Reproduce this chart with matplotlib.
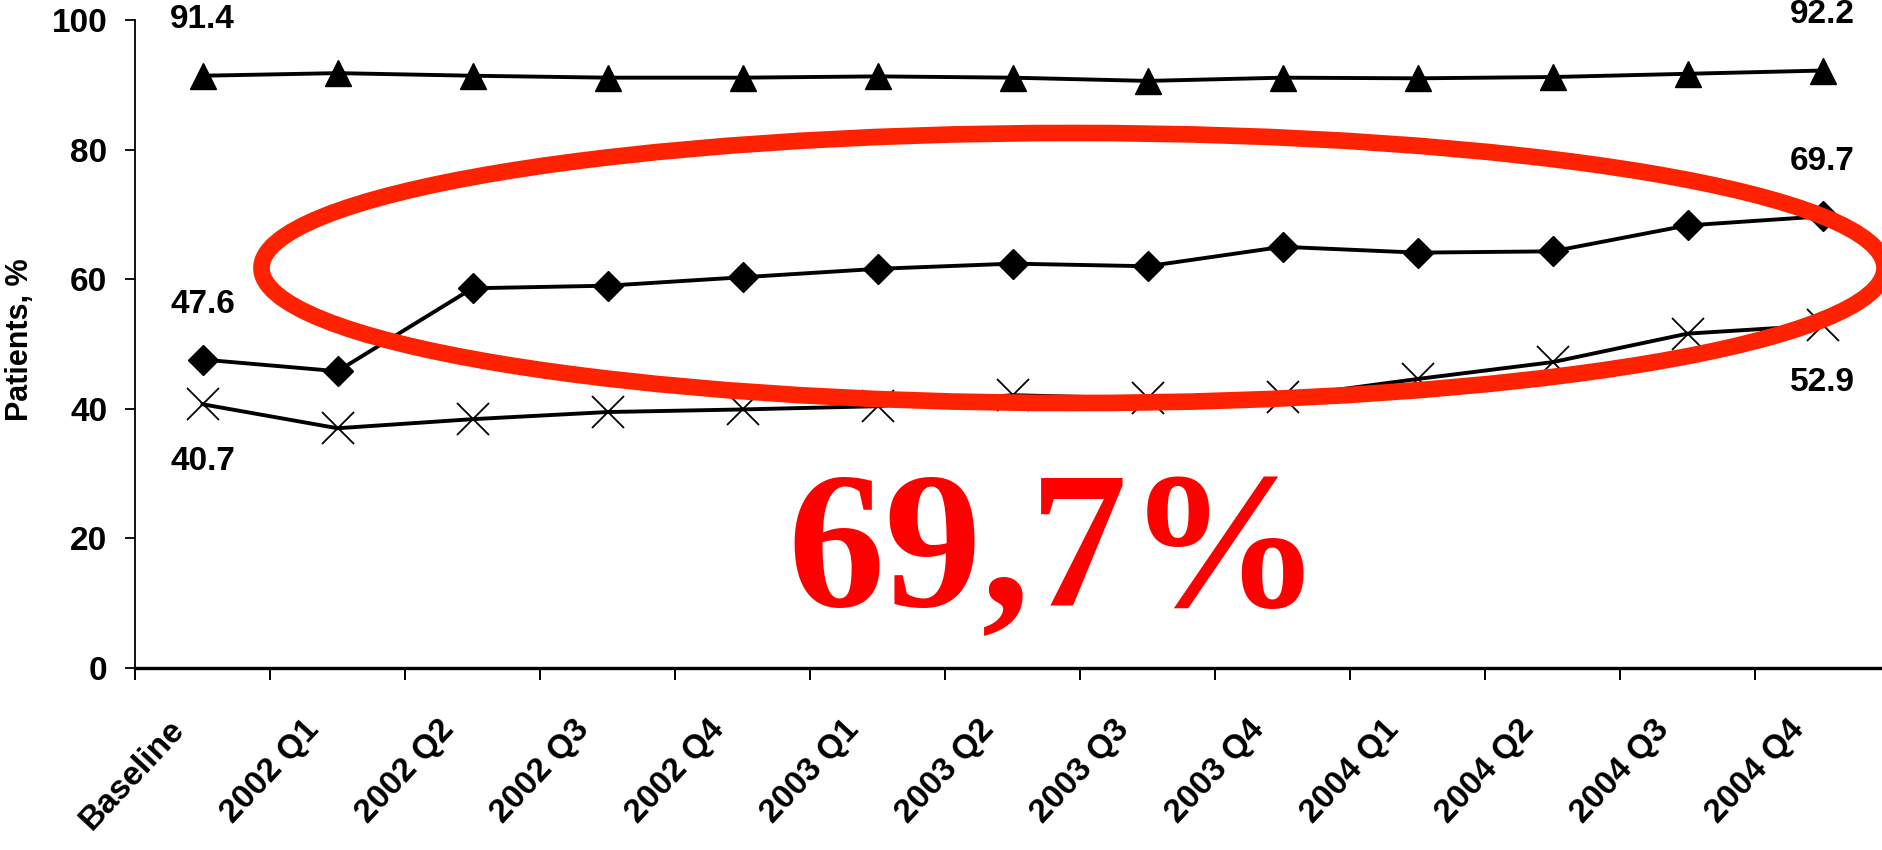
import matplotlib
matplotlib.use("Agg")
import matplotlib.pyplot as plt
from matplotlib.patches import Ellipse
from matplotlib.transforms import ScaledTranslation
import numpy as np

# ---------------- data ----------------
categories = ["Baseline", "2002 Q1", "2002 Q2", "2002 Q3", "2002 Q4",
              "2003 Q1", "2003 Q2", "2003 Q3", "2003 Q4",
              "2004 Q1", "2004 Q2", "2004 Q3", "2004 Q4"]
series_triangle = [91.4, 91.8, 91.4, 91.1, 91.1, 91.3, 91.1, 90.6, 91.1, 91.0, 91.2, 91.7, 92.2]
series_diamond = [47.6, 45.8, 58.6, 59.0, 60.3, 61.6, 62.4, 62.0, 65.0, 64.1, 64.3, 68.3, 69.7]
series_cross = [40.7, 37.0, 38.4, 39.5, 39.9, 40.4, 42.1, 41.6, 41.8, 44.6, 47.2, 51.6, 52.9]
y_ticks = [0, 20, 40, 60, 80, 100]
y_label = "Patients, %"
highlight_text = "69,7%"

# ---------------- style ----------------
plt.rcParams['font.family'] = ['Liberation Sans', 'DejaVu Sans']
plt.rcParams['font.weight'] = 'bold'

W, H = 1883, 850
fig = plt.figure(figsize=(W / 100, H / 100), dpi=100)
fig.patch.set_facecolor('white')

ax_left, ax_bottom = 135, 182
ax_w, ax_h = 1755, 648
ax = fig.add_axes([ax_left / W, ax_bottom / H, ax_w / W, ax_h / H])
ax.set_facecolor('none')

x = np.arange(len(categories))
line_kw = dict(color='black', lw=2.8, zorder=3)
ax.plot(x, series_triangle, marker='^', ms=19, mfc='black', mec='black', **line_kw)
ax.plot(x, series_diamond, marker='D', ms=15, mfc='black', mec='black', **line_kw)
ax.plot(x, series_cross, marker='x', ms=23, mew=1.3, mec='black', **line_kw)

ax.set_xlim(-0.5, len(categories) - 0.5)
ax.set_ylim(0, 100)

for s in ['top', 'right']:
    ax.spines[s].set_visible(False)
ax.spines['left'].set_linewidth(1.3)
ax.spines['bottom'].set_linewidth(2.4)

ax.set_yticks(y_ticks)
ax.set_yticklabels([str(v) for v in y_ticks])
ax.tick_params(axis='y', direction='out', length=7, width=1.3, pad=13, labelsize=24)

ax.set_xticks(np.arange(-0.5, len(categories), 1.0))
ax.set_xticklabels([])
ax.tick_params(axis='x', which='major', direction='out', length=8.5, width=1.4)
ax.set_xticks(x, minor=True)
ax.set_xticklabels(categories, minor=True, rotation=47, ha='right', va='top',
                   fontsize=24)
ax.tick_params(axis='x', which='minor', length=0, pad=33)
for lbl in ax.get_xticklabels(minor=True):
    lbl.set_transform(lbl.get_transform() + ScaledTranslation(-0.12, 0, fig.dpi_scale_trans))

ax.set_ylabel(y_label, fontsize=22, fontweight='bold')
ax.yaxis.set_label_coords(-0.057, 0.506)

# end-point value labels
def end_label(series, idx, dy):
    ax.annotate(f"{series[idx]:.1f}", (x[idx], series[idx]), xytext=(0, dy),
                textcoords='offset pixels', ha='center', va='center',
                fontsize=24, fontweight='bold', color='black', zorder=5,
                annotation_clip=False)

for idx in (0, len(categories) - 1):
    end_label(series_triangle, idx, 56)
    end_label(series_diamond, idx, 55)
    end_label(series_cross, idx, -57)

# red highlight annotation (overlay)
ell = Ellipse((1073 / W, 1 - 268 / H), 1623 / W, 270 / H, transform=fig.transFigure,
              fill=False, edgecolor='#ff2200', lw=12, zorder=10)
fig.add_artist(ell)
fig.text(1055 / W, 1 - 606 / H, highlight_text, ha='center', va='baseline',
         fontsize=140, fontweight='bold', color='#ff0000',
         family=['Liberation Serif', 'DejaVu Serif'], zorder=10)

fig.savefig('out.png', dpi=100, facecolor='white')
